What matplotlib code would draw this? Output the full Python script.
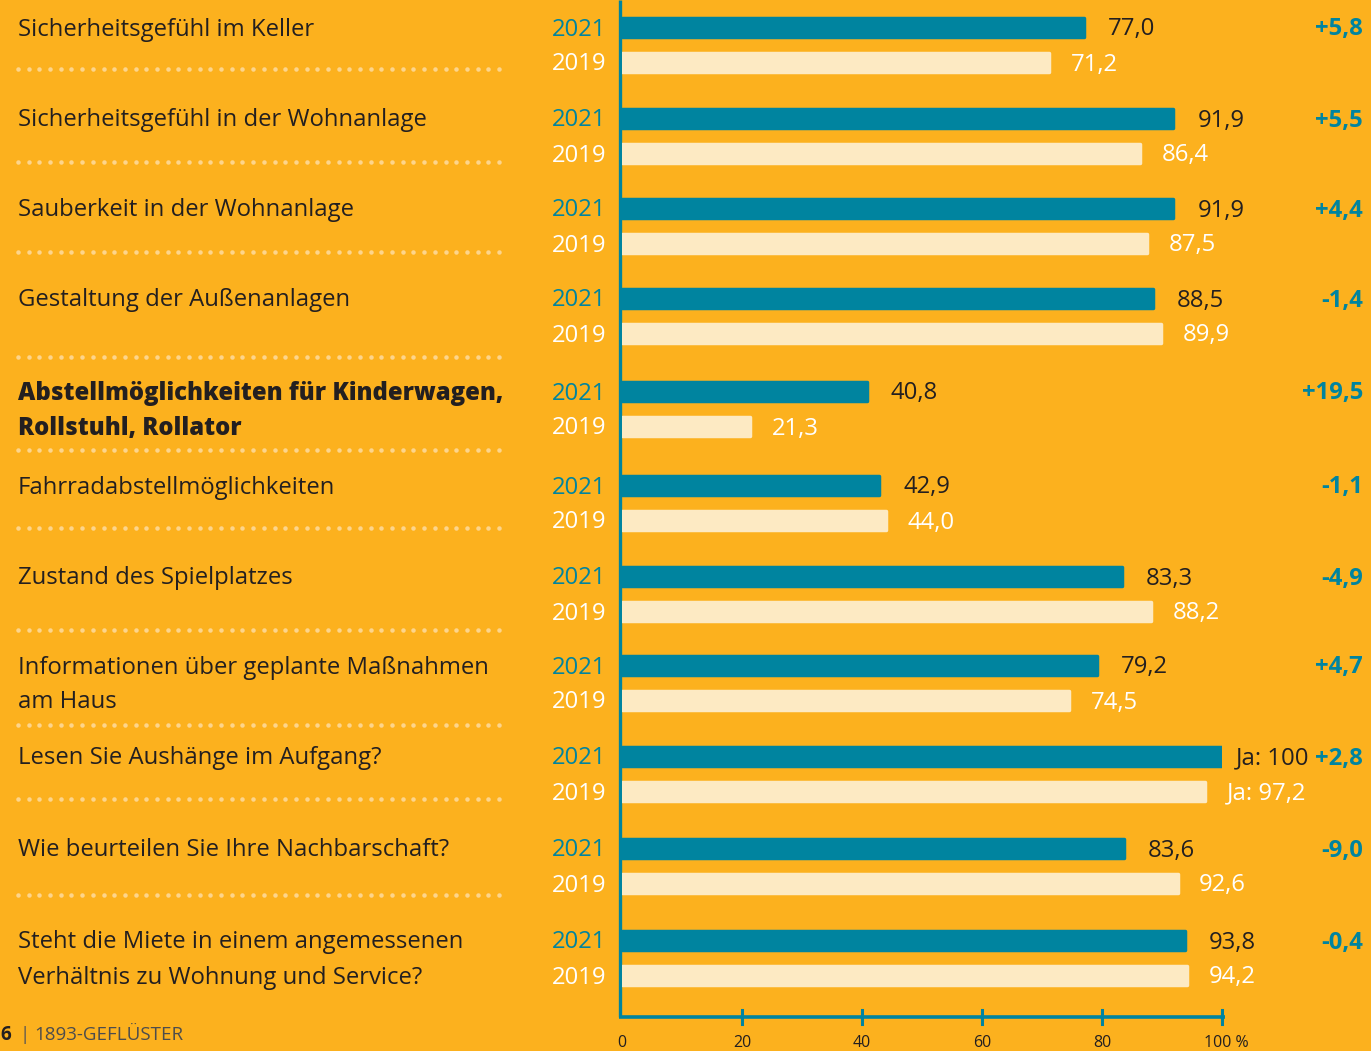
import matplotlib
matplotlib.use('Agg')
import matplotlib.pyplot as plt
import numpy as np

# ---------------- data ----------------
categories = [
    "Sicherheitsgefühl im Keller",
    "Sicherheitsgefühl in der Wohnanlage",
    "Sauberkeit in der Wohnanlage",
    "Gestaltung der Außenanlagen",
    "Abstellmöglichkeiten für Kinderwagen,\nRollstuhl, Rollator",
    "Fahrradabstellmöglichkeiten",
    "Zustand des Spielplatzes",
    "Informationen über geplante Maßnahmen\nam Haus",
    "Lesen Sie Aushänge im Aufgang?",
    "Wie beurteilen Sie Ihre Nachbarschaft?",
    "Steht die Miete in einem angemessenen\nVerhältnis zu Wohnung und Service?",
]
bold_rows = [4]
values_2021 = [77.0, 91.9, 91.9, 88.5, 40.8, 42.9, 83.3, 79.2, 100.0, 83.6, 93.8]
values_2019 = [71.2, 86.4, 87.5, 89.9, 21.3, 44.0, 88.2, 74.5, 97.2, 92.6, 94.2]
labels_2021 = ["77,0", "91,9", "91,9", "88,5", "40,8", "42,9", "83,3", "79,2", "Ja: 100", "83,6", "93,8"]
labels_2019 = ["71,2", "86,4", "87,5", "89,9", "21,3", "44,0", "88,2", "74,5", "Ja: 97,2", "92,6", "94,2"]
changes = ["+5,8", "+5,5", "+4,4", "-1,4", "+19,5", "-1,1", "-4,9", "+4,7", "+2,8", "-9,0", "-0,4"]
years = ["2021", "2019"]
x_ticks = [0, 20, 40, 60, 80, 100]
x_ticklabels = ["0", "20", "40", "60", "80", "100 %"]

# ---------------- style ----------------
BG = "#FCB11E"
TEAL = "#00849F"
CREAM = "#FDEAC3"
DARK = "#231F20"
DOT = "#FDD58C"
FONT = "Open Sans"

W, H = 1371, 1051
fig = plt.figure(figsize=(W / 100, H / 100), dpi=100, facecolor=BG)

# text / layout axes in pixel coordinates
axT = fig.add_axes([0, 0, 1, 1])
axT.set_xlim(0, W)
axT.set_ylim(H, 0)
axT.axis("off")
axT.set_facecolor(BG)

# bar axes: 0..100 mapped to x pixels 622..1222
X0, X1 = 622, 1222
axB = fig.add_axes([X0 / W, 0, (X1 - X0) / W, 1])
axB.set_xlim(0, 100)
axB.set_ylim(H, 0)
axB.axis("off")
axB.patch.set_alpha(0)

row_y = np.array([27, 118, 208, 298, 391, 485, 576, 665, 756, 848, 940])
y19 = row_y + 35
sep_y = [69, 162, 252, 357, 450, 528, 630, 725, 799, 895]
BAR_H = 19
DY = 2.5  # text baseline nudge

axB.barh(row_y, values_2021, height=BAR_H, color=TEAL, edgecolor=TEAL, linewidth=2.5,
         joinstyle="round", left=0.0, zorder=3)
axB.barh(y19, values_2019, height=BAR_H, color=CREAM, edgecolor=CREAM, linewidth=2.5,
         joinstyle="round", left=0.0, zorder=3)

FS = 17.2
for i in range(len(categories)):
    lines = categories[i].split("\n")
    bold = i in bold_rows
    weight = 800 if bold else "normal"
    axT.text(18, row_y[i] + DY, lines[0], ha="left", va="center", fontsize=FS,
             color=DARK, family=FONT, fontweight=weight)
    if len(lines) > 1:
        axT.text(18, y19[i] + DY, lines[1], ha="left", va="center", fontsize=FS,
                 color=DARK, family=FONT, fontweight=weight)
    # years
    axT.text(606, row_y[i] + DY, years[0], ha="right", va="center", fontsize=FS,
             color=TEAL, family=FONT)
    axT.text(606, y19[i] + DY, years[1], ha="right", va="center", fontsize=FS,
             color="white", family=FONT)
    # values
    off21 = 2.3 if values_2021[i] >= 99 else 4.0
    axB.text(values_2021[i] + off21, row_y[i] + DY, labels_2021[i], ha="left", va="center",
             fontsize=FS, color=DARK, family=FONT, clip_on=False)
    axB.text(values_2019[i] + 3.6, y19[i] + DY, labels_2019[i], ha="left", va="center",
             fontsize=FS, color="white", family=FONT, clip_on=False)
    # change
    axT.text(1363, row_y[i] + DY, changes[i], ha="right", va="center", fontsize=FS,
             color=TEAL, family=FONT, fontweight="bold")

# dotted separators
dot_x = np.linspace(18, 499, 46)
for sy in sep_y:
    axT.scatter(dot_x, np.full_like(dot_x, sy), s=10.5, color=DOT, linewidths=0, zorder=2)

# axes lines
axT.plot([620, 620], [0, 1017], color=TEAL, lw=2.4, solid_capstyle="butt", zorder=4)
axT.plot([619, 1225], [1017, 1017], color=TEAL, lw=2.6, solid_capstyle="butt", zorder=4)
for t, lab in zip(x_ticks, x_ticklabels):
    if t > 0:
        axB.plot([t, t], [1010, 1024], color=TEAL, lw=2.2, clip_on=False, zorder=4)
    axB.text(t + (0.7 if t == 100 else 0), 1043, lab, ha="center", va="center", fontsize=11.5,
             color=DARK, family=FONT, clip_on=False)

# footer
axT.text(0, 1035, "6", ha="left", va="center", fontsize=13.5, color=DARK,
         family=FONT, fontweight="bold")
axT.text(20, 1035, "|", ha="left", va="center", fontsize=13.5, color="#555555", family=FONT)
axT.text(34, 1035, "1893-GEFLÜSTER", ha="left", va="center", fontsize=13.5,
         color="#4d4d4d", family=FONT)

fig.savefig("out.png", dpi=100, facecolor=BG)
